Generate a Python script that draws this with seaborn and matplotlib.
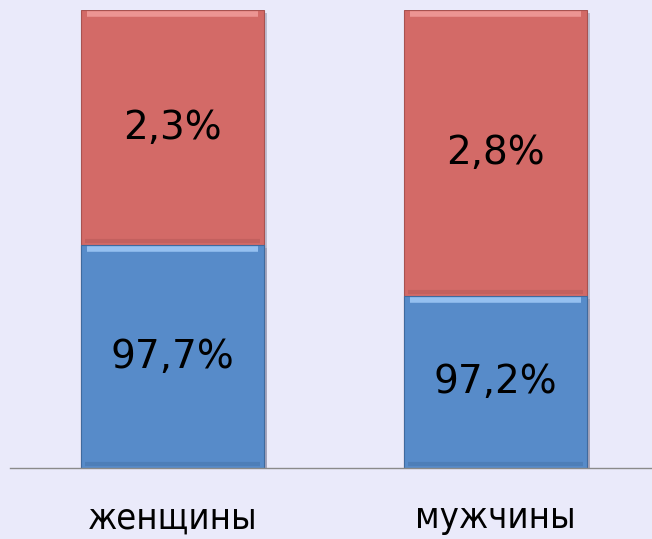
import numpy as np
import pandas as pd
import matplotlib.pyplot as plt
import matplotlib.patheffects as pe
import seaborn as sns

categories = ["женщины", "мужчины"]
share_yes = [97.7, 97.2]
share_no = [2.3, 2.8]
labels_yes = ["97,7%", "97,2%"]
labels_no = ["2,3%", "2,8%"]

bg = "#EAEAFA"
red = "#D36A67"
blue = "#578BC9"

sns.set_theme(style="white")
plt.rcParams["font.family"] = ["DejaVu Sans"]

df = pd.DataFrame({"cat": categories, "yes": share_yes, "no": share_no})
df["total"] = df["yes"] + df["no"]

fig = plt.figure(figsize=(6.52, 5.39), dpi=100, facecolor=bg)
ax = fig.add_axes([10 / 652, 1 - 468 / 539, 1 - 10 / 652, (468 - 10) / 539])
ax.set_facecolor(bg)

shadow = [pe.SimplePatchShadow(offset=(2, -2), shadow_rgbFace="#9090a8", alpha=0.5), pe.Normal()]

sns.barplot(data=df, x="cat", y="total", color=red, width=0.567, saturation=1,
            edgecolor="#a85250", linewidth=0.8, ax=ax)
sns.barplot(data=df, x="cat", y="yes", color=blue, width=0.567, saturation=1,
            edgecolor="#3f6a9e", linewidth=0.8, ax=ax)
for p in ax.patches:
    p.set_path_effects(shadow)

ymin = 95.52
ax.set_ylim(ymin, 100)
ax.set_xlim(-0.503, 1.485)

# bevel highlights at top of each segment, darker rim below
for i, (y, t) in enumerate(zip(df["yes"], df["total"])):
    ax.hlines(y - 0.035, i - 0.265, i + 0.265, color="#95c0f0", lw=4, zorder=5)
    ax.hlines(t - 0.035, i - 0.265, i + 0.265, color="#ec9593", lw=4, zorder=5)
    ax.hlines(y + 0.04, i - 0.27, i + 0.27, color="#b45856", lw=3, alpha=0.5, zorder=5)
    ax.hlines(ymin + 0.04, i - 0.27, i + 0.27, color="#4472a8", lw=3, alpha=0.5, zorder=5)

for i, (y, t) in enumerate(zip(df["yes"], df["total"])):
    ax.text(i, (ymin + y) / 2, labels_yes[i], ha="center", va="center", fontsize=28, color="black")
    ax.text(i, (y + t) / 2, labels_no[i], ha="center", va="center", fontsize=28, color="black")

ax.set_xlabel("")
ax.set_ylabel("")
ax.set_yticks([])
ax.tick_params(axis="x", length=0, pad=24, labelcolor="black")
for lbl in ax.get_xticklabels():
    lbl.set_fontsize(26)
    lbl.set_fontstretch("condensed")
for s in ["top", "right", "left"]:
    ax.spines[s].set_visible(False)
ax.spines["bottom"].set_color("#8a8a8a")
ax.spines["bottom"].set_linewidth(1)

fig.savefig("out.png", dpi=100, facecolor=bg)
